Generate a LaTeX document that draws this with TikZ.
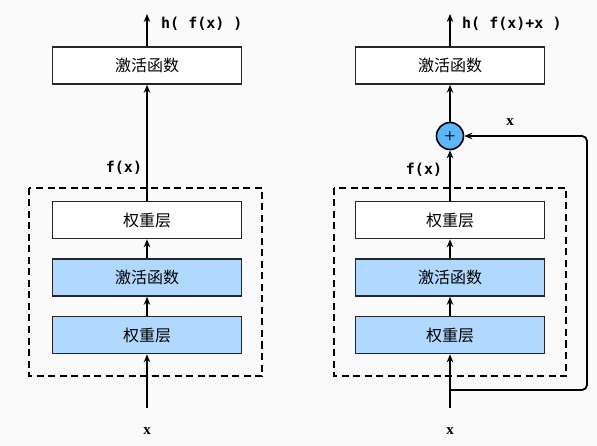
\documentclass[tikz,border=0pt]{standalone}
\usepackage{fontspec}
\newfontfamily\cjk{Noto Sans CJK SC}
\newfontfamily\monof{DejaVu Sans Mono}
\newfontfamily\serifx{Liberation Serif}
\usetikzlibrary{arrows.meta}
\definecolor{bg}{HTML}{FAFAFA}
\definecolor{lblue}{HTML}{B1D8FE}
\definecolor{cblue}{HTML}{5CB6F8}
\tikzset{
  layer/.style={draw=black!85, line width=1.6pt, minimum width=189pt, minimum height=37pt, inner sep=0pt, font=\cjk\fontsize{16}{16}\selectfont},
  white/.style={layer, fill=white},
  blue/.style={layer, fill=lblue},
  arr/.style={line width=1.8pt, -{Stealth[length=8pt,width=6.5pt]}},
  mlab/.style={font=\monof\bfseries\fontsize{15}{15}\selectfont, inner sep=0pt},
  xlab/.style={font=\serifx\bfseries\fontsize{15}{15}\selectfont, inner sep=0pt},
  dbox/.style={draw, line width=1.6pt, dash pattern=on 7pt off 4.5pt},
  plusc/.style={circle, draw, line width=1.6pt, fill=cblue, minimum size=27pt, inner sep=0pt, font=\sffamily\bfseries\fontsize{13}{13}\selectfont}
}
\begin{document}
\begin{tikzpicture}[x=1pt,y=-1pt]
\fill[bg] (0,0) rectangle (597,446);
\useasboundingbox (0,0) rectangle (597,446);
% left
\draw[dbox] (29,188) rectangle (262,376);
\node[white] (Lact) at (147,65.5) {激活函数};
\node[white] (Lw2) at (147,220) {权重层};
\node[blue] (Lact1) at (147,277.5) {激活函数};
\node[blue] (Lw1) at (147,335) {权重层};
\coordinate (Lin) at (147,408);
\coordinate (Lout) at (147,14);
\node[xlab] (Lx) at (147,431) {x};
\node[mlab, anchor=west] (Lh) at (161,24) {h( f(x) )};
\node[mlab] (Lf) at (124,168) {f(x)};
\draw[arr] (Lin) -- (Lw1.south);
\draw[arr] (Lw1.north) -- (Lact1.south);
\draw[arr] (Lact1.north) -- (Lw2.south);
\draw[arr] (Lw2.north) -- (Lact.south);
\draw[arr] (Lact.north) -- (Lout);
% right
\draw[dbox] (334,188) rectangle (566,376);
\node[white] (Ract) at (450,65.5) {激活函数};
\node[plusc] (plus) at (450,136) {+};
\node[white] (Rw2) at (450,220) {权重层};
\node[blue] (Ract1) at (450,277.5) {激活函数};
\node[blue] (Rw1) at (450,335) {权重层};
\coordinate (Rin) at (450,408);
\coordinate (Rsplit) at (450,390);
\coordinate (Rout) at (450,14);
\node[xlab] (Rx) at (450,431) {x};
\node[xlab] (Rx2) at (510,122) {x};
\node[mlab, anchor=west] (Rh) at (462,24) {h( f(x)+x )};
\node[mlab] (Rf) at (424,170) {f(x)};
\draw[arr] (Rin) -- (Rw1.south);
\draw[arr] (Rw1.north) -- (Ract1.south);
\draw[arr] (Ract1.north) -- (Rw2.south);
\draw[arr] (Rw2.north) -- (plus.south);
\draw[arr] (plus.north) -- (Ract.south);
\draw[arr] (Ract.north) -- (Rout);
\draw[arr, rounded corners=5pt] (Rsplit) -- (587,390) -- (587,136) -- (plus.east);
\end{tikzpicture}
\end{document}
